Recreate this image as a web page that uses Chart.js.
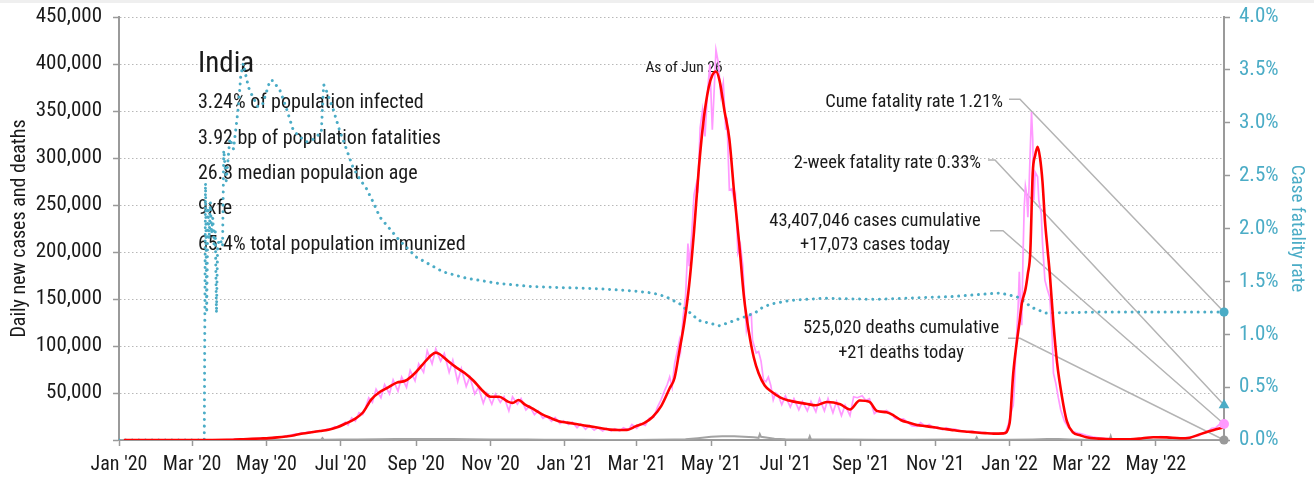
<!DOCTYPE html>
<html>
<head>
<meta charset="utf-8">
<script src="https://cdn.jsdelivr.net/npm/chart.js@4.4.1/dist/chart.umd.min.js"></script>
<style>
  html, body { margin: 0; padding: 0; background: #ffffff; }
  #wrap { position: relative; width: 1314px; height: 480px; overflow: hidden; }
  #band { position: absolute; left: 0; top: 0; width: 1314px; height: 3px; background: #efefef; }
  canvas { position: absolute; left: 0; top: 0; }
</style>
</head>
<body>
<div id="wrap">
  <canvas id="c" width="1314" height="480"></canvas>
  <div id="band"></div>
</div>
<script>
// ---- Data ---------------------------------------------------------------
const countryName = 'India';
const infoLines = [
  '3.24% of population infected',
  '3.92 bp of population fatalities',
  '26.8 median population age',
  '9xfe',
  '65.4% total population immunized'
];
const asOfDate = '2022-06-26';
const asOfLabel = 'As of Jun 26';

const tickDates = ['2020-01-01','2020-03-01','2020-05-01','2020-07-01','2020-09-01','2020-11-01',
                   '2021-01-01','2021-03-01','2021-05-01','2021-07-01','2021-09-01','2021-11-01',
                   '2022-01-01','2022-03-01','2022-05-01'];
const tickLabels = ["Jan '20","Mar '20","May '20","Jul '20","Sep '20","Nov '20",
                    "Jan '21","Mar '21","May '21","Jul '21","Sep '21","Nov '21",
                    "Jan '22","Mar '22","May '22"];

// 7-day average of new cases
const casesAvg = [
  ['2020-01-05',0],['2020-02-02',0],['2020-03-01',0],['2020-03-15',20],['2020-03-29',100],
  ['2020-04-05',400],['2020-04-12',800],['2020-04-19',1200],['2020-04-26',1600],['2020-05-03',2000],
  ['2020-05-10',2800],['2020-05-17',3800],['2020-05-24',5000],['2020-05-31',7000],['2020-06-07',8200],
  ['2020-06-14',9500],['2020-06-21',11000],['2020-06-28',13500],['2020-07-05',17500],['2020-07-12',22000],
  ['2020-07-19',29000],['2020-07-26',43000],['2020-08-02',51000],['2020-08-09',56000],['2020-08-16',61000],
  ['2020-08-23',63000],['2020-08-30',70000],['2020-09-06',80000],['2020-09-13',90000],['2020-09-17',93000],
  ['2020-09-20',91500],['2020-09-27',84000],['2020-10-04',77000],['2020-10-11',71000],['2020-10-18',63000],
  ['2020-10-25',53000],['2020-11-01',46000],['2020-11-08',46000],['2020-11-15',41000],['2020-11-19',39500],
  ['2020-11-24',42500],['2020-11-29',38000],['2020-12-06',33000],['2020-12-13',27500],['2020-12-20',23500],
  ['2020-12-27',20000],['2021-01-03',18500],['2021-01-10',17000],['2021-01-17',15500],['2021-01-24',14000],
  ['2021-01-31',12500],['2021-02-07',11000],['2021-02-14',10600],['2021-02-21',10800],['2021-02-28',14500],
  ['2021-03-07',18000],['2021-03-14',24500],['2021-03-21',36000],['2021-03-28',55000],['2021-04-01',66000],
  ['2021-04-05',95000],['2021-04-09',125000],['2021-04-13',165000],['2021-04-17',222000],['2021-04-21',290000],
  ['2021-04-25',342000],['2021-04-29',375000],['2021-05-02',388000],['2021-05-05',392000],['2021-05-08',382000],
  ['2021-05-12',350000],['2021-05-16',320000],['2021-05-20',262000],['2021-05-24',210000],['2021-05-28',152000],
  ['2021-06-01',115000],['2021-06-05',88000],['2021-06-09',71000],['2021-06-14',58000],['2021-06-20',51000],
  ['2021-06-27',45000],['2021-07-04',42000],['2021-07-11',40000],['2021-07-18',38500],['2021-07-26',37000],
  ['2021-08-04',40500],['2021-08-15',38000],['2021-08-23',32500],['2021-08-31',42000],['2021-09-08',40500],
  ['2021-09-14',31000],['2021-09-22',29500],['2021-09-28',26000],['2021-10-04',21000],['2021-10-10',18500],
  ['2021-10-17',16000],['2021-10-24',14800],['2021-10-31',13500],['2021-11-07',12000],['2021-11-14',10800],
  ['2021-11-21',9500],['2021-11-28',8800],['2021-12-05',8000],['2021-12-12',7300],['2021-12-19',6800],
  ['2021-12-27',7000],['2022-01-01',17700],['2022-01-04',71000],['2022-01-07',105000],['2022-01-09',124000],
  ['2022-01-11',145000],['2022-01-14',160000],['2022-01-16',177000],['2022-01-18',200000],['2022-01-20',284000],
  ['2022-01-22',303000],['2022-01-24',312000],['2022-01-26',300000],['2022-01-28',275000],['2022-01-30',234000],
  ['2022-02-01',205000],['2022-02-03',177000],['2022-02-06',124000],['2022-02-09',82000],['2022-02-13',46000],
  ['2022-02-17',20000],['2022-02-22',8000],['2022-02-28',5000],['2022-03-05',3000],['2022-03-15',1500],
  ['2022-03-27',800],['2022-04-10',800],['2022-04-20',1800],['2022-04-29',3000],['2022-05-10',2800],
  ['2022-05-21',1800],['2022-05-29',2500],['2022-06-06',6000],['2022-06-12',8500],['2022-06-17',10500],
  ['2022-06-26',13500]
];

// reported new cases per day
const casesDaily = [
  ['2020-03-01',0],['2020-03-20',30],['2020-03-28',100],['2020-04-02',450],['2020-04-06',600],['2020-04-10',750],
  ['2020-04-14',950],['2020-04-18',1100],['2020-04-22',1400],['2020-04-26',1650],['2020-04-30',1800],['2020-05-03',2300],
  ['2020-05-06',2600],['2020-05-09',3100],['2020-05-12',3300],['2020-05-15',3700],['2020-05-18',4600],['2020-05-21',5000],
  ['2020-05-24',6300],['2020-05-27',6400],['2020-05-30',7700],['2020-06-02',7600],['2020-06-05',8800],['2020-06-08',8000],
  ['2020-06-11',9600],['2020-06-14',9300],['2020-06-17',10400],['2020-06-20',11600],['2020-06-23',11500],['2020-06-26',14200],
  ['2020-06-29',13400],['2020-07-02',16500],['2020-07-05',19000],['2020-07-07',16000],['2020-07-10',23500],['2020-07-13',20000],
  ['2020-07-16',29000],['2020-07-19',27000],['2020-07-21',33000],['2020-07-24',45000],['2020-07-27',40000],['2020-07-30',54000],
  ['2020-08-03',45000],['2020-08-06',59000],['2020-08-10',49000],['2020-08-13',64000],['2020-08-17',52000],['2020-08-20',67000],
  ['2020-08-24',56000],['2020-08-27',74000],['2020-08-31',63000],['2020-09-03',81000],['2020-09-07',72000],['2020-09-10',95000],
  ['2020-09-14',81000],['2020-09-17',97000],['2020-09-21',84000],['2020-09-24',92000],['2020-09-28',72000],['2020-10-01',85000],
  ['2020-10-05',62000],['2020-10-08',76000],['2020-10-12',57000],['2020-10-15',67000],['2020-10-19',49000],['2020-10-22',56000],
  ['2020-10-26',39000],['2020-10-29',50000],['2020-11-02',38000],['2020-11-05',49000],['2020-11-09',40000],['2020-11-12',46000],
  ['2020-11-16',31000],['2020-11-19',46000],['2020-11-23',38000],['2020-11-26',44000],['2020-11-30',32000],['2020-12-03',36000],
  ['2020-12-07',27000],['2020-12-10',31000],['2020-12-14',23000],['2020-12-17',25500],['2020-12-21',20000],['2020-12-24',24000],
  ['2020-12-28',17500],['2020-12-31',20500],['2021-01-04',16500],['2021-01-07',19000],['2021-01-11',13000],['2021-01-14',17000],
  ['2021-01-18',11500],['2021-01-21',15500],['2021-01-25',10500],['2021-01-28',13000],['2021-02-01',9500],['2021-02-04',12500],
  ['2021-02-08',9500],['2021-02-11',12000],['2021-02-15',9500],['2021-02-18',13000],['2021-02-22',10500],['2021-02-25',16500],
  ['2021-03-01',12500],['2021-03-04',17500],['2021-03-08',15500],['2021-03-11',23000],['2021-03-15',24500],['2021-03-18',35000],
  ['2021-03-21',43000],['2021-03-24',53000],['2021-03-26',59000],['2021-03-28',67000],['2021-03-30',56000],['2021-04-01',81000],
  ['2021-04-03',93000],['2021-04-05',106000],['2021-04-06',96000],['2021-04-08',131000],['2021-04-10',152000],['2021-04-12',209000],
  ['2021-04-13',185000],['2021-04-15',217000],['2021-04-17',261000],['2021-04-19',273000],['2021-04-20',263000],['2021-04-22',332000],
  ['2021-04-24',351000],['2021-04-26',323000],['2021-04-28',370000],['2021-04-30',400000],['2021-05-02',330000],['2021-05-03',357000],
  ['2021-05-05',415000],['2021-05-07',401000],['2021-05-09',366000],['2021-05-11',380000],['2021-05-13',330000],['2021-05-14',343000],
  ['2021-05-16',266000],['2021-05-18',267000],['2021-05-20',255000],['2021-05-21',260000],['2021-05-23',199000],['2021-05-25',208000],
  ['2021-05-27',186000],['2021-05-30',117000],['2021-06-01',132000],['2021-06-03',134000],['2021-06-04',106000],['2021-06-07',92500],
  ['2021-06-09',94000],['2021-06-11',84000],['2021-06-13',64000],['2021-06-15',62000],['2021-06-17',67000],['2021-06-19',58000],
  ['2021-06-21',42500],['2021-06-23',50000],['2021-06-25',48000],['2021-06-28',37500],['2021-07-01',47000],['2021-07-05',35000],
  ['2021-07-08',44000],['2021-07-12',32000],['2021-07-15',41000],['2021-07-19',31000],['2021-07-22',41000],['2021-07-26',30000],
  ['2021-07-29',44000],['2021-08-02',31000],['2021-08-05',44000],['2021-08-09',29000],['2021-08-12',41000],['2021-08-16',26000],
  ['2021-08-19',37000],['2021-08-23',26000],['2021-08-26',46000],['2021-08-29',45000],['2021-09-02',47000],['2021-09-05',42000],
  ['2021-09-08',44000],['2021-09-12',28000],['2021-09-15',31000],['2021-09-19',30000],['2021-09-22',31500],['2021-09-26',28000],
  ['2021-09-29',23000],['2021-10-03',22000],['2021-10-06',22500],['2021-10-10',18000],['2021-10-13',15000],['2021-10-17',14500],
  ['2021-10-20',18500],['2021-10-24',14500],['2021-10-27',16500],['2021-10-31',12500],['2021-11-03',14000],['2021-11-07',11000],
  ['2021-11-10',13000],['2021-11-14',11000],['2021-11-17',11500],['2021-11-21',10000],['2021-11-24',9500],['2021-11-28',8500],
  ['2021-12-01',9500],['2021-12-05',8300],['2021-12-08',8500],['2021-12-12',7700],['2021-12-15',7000],['2021-12-19',7000],
  ['2021-12-22',6300],['2021-12-25',7000],['2021-12-27',6500],['2021-12-29',9200],['2021-12-31',16800],
  ['2022-01-01',22000],['2022-01-02',27500],['2022-01-03',33000],['2022-01-04',37000],['2022-01-05',58000],['2022-01-06',90000],
  ['2022-01-07',117000],['2022-01-08',141000],['2022-01-09',179000],['2022-01-10',142000],['2022-01-11',122000],['2022-01-12',195000],
  ['2022-01-13',247000],['2022-01-14',270000],['2022-01-15',262000],['2022-01-16',237000],['2022-01-17',270000],['2022-01-19',349000],
  ['2022-01-20',320000],['2022-01-21',255000],['2022-01-22',285000],['2022-01-24',280000],['2022-01-25',255000],['2022-01-27',241000],
  ['2022-01-28',210000],['2022-01-30',170000],['2022-02-01',160000],['2022-02-03',152000],['2022-02-05',110000],['2022-02-06',71000],
  ['2022-02-08',60000],['2022-02-10',45000],['2022-02-12',32000],['2022-02-15',20000],['2022-02-18',14000],['2022-02-22',9000],
  ['2022-02-26',7500],['2022-03-01',6500],['2022-03-05',5000],['2022-03-10',3500],['2022-03-15',2200],['2022-03-20',1700],
  ['2022-03-27',1300],['2022-04-03',1000],['2022-04-10',900],['2022-04-17',1300],['2022-04-21',2300],['2022-04-24',2500],
  ['2022-04-28',3300],['2022-05-01',3100],['2022-05-05',3500],['2022-05-08',3300],['2022-05-12',2800],['2022-05-15',2400],
  ['2022-05-19',2200],['2022-05-22',2100],['2022-05-26',2600],['2022-05-29',2800],['2022-06-02',3700],['2022-06-05',4300],
  ['2022-06-09',7500],['2022-06-12',8600],['2022-06-16',12500],['2022-06-19',12900],['2022-06-23',17300],['2022-06-26',17073]
];

// reported deaths per day
const deathsDaily = [
  ['2020-01-01',0],['2020-03-10',0],['2020-04-01',10],['2020-04-15',35],['2020-05-01',70],['2020-05-15',120],
  ['2020-06-01',220],['2020-06-15',330],['2020-06-16',2000],['2020-06-17',340],['2020-07-01',420],['2020-07-15',580],
  ['2020-08-01',800],['2020-08-15',950],['2020-09-01',1050],['2020-09-15',1150],['2020-10-01',1050],['2020-10-15',800],
  ['2020-11-01',550],['2020-11-15',480],['2020-12-01',480],['2020-12-15',350],['2021-01-01',250],['2021-01-15',180],
  ['2021-02-01',120],['2021-02-15',100],['2021-03-01',110],['2021-03-15',160],['2021-04-01',400],['2021-04-10',700],
  ['2021-04-20',1900],['2021-05-01',3400],['2021-05-10',4000],['2021-05-20',4100],['2021-05-28',3500],['2021-06-05',2800],
  ['2021-06-09',2300],['2021-06-10',6150],['2021-06-11',3400],['2021-06-15',2600],['2021-06-22',1400],['2021-07-01',900],
  ['2021-07-15',600],['2021-07-20',500],['2021-07-21',3900],['2021-07-22',500],['2021-08-15',450],['2021-09-15',350],
  ['2021-10-15',300],['2021-11-15',400],['2021-12-04',300],['2021-12-05',2800],['2021-12-06',300],['2022-01-01',250],
  ['2022-01-20',500],['2022-02-01',1000],['2022-02-10',1100],['2022-02-20',500],['2022-03-01',200],['2022-03-24',60],
  ['2022-03-25',4100],['2022-03-26',60],['2022-04-15',40],['2022-05-15',30],['2022-06-26',21]
];

// cumulative case fatality rate, percent
const fatalityRate = [
  ['2020-01-01',0],['2020-03-11',0],['2020-03-12',2.43],['2020-03-13',1.2],['2020-03-14',2.2],['2020-03-15',1.9],
  ['2020-03-16',2.25],['2020-03-17',1.95],['2020-03-18',2.1],['2020-03-19',1.85],['2020-03-20',2.0],['2020-03-21',1.2],
  ['2020-03-22',1.85],['2020-03-24',1.9],['2020-03-26',1.83],['2020-03-27',2.74],['2020-03-29',2.45],['2020-04-01',2.85],
  ['2020-04-04',2.75],['2020-04-08',3.15],['2020-04-10',3.45],['2020-04-12',3.56],['2020-04-15',3.40],['2020-04-17',3.31],
  ['2020-04-21',3.22],['2020-04-24',3.15],['2020-04-28',3.18],['2020-05-04',3.40],['2020-05-06',3.40],['2020-05-12',3.31],
  ['2020-05-17',3.15],['2020-05-23',2.93],['2020-05-28',2.87],['2020-06-03',2.82],['2020-06-08',2.84],['2020-06-12',2.88],
  ['2020-06-15',2.9],['2020-06-17',3.36],['2020-06-19',3.31],['2020-06-25',3.12],['2020-06-30',2.93],['2020-07-06',2.74],
  ['2020-07-11',2.58],['2020-07-17',2.46],['2020-07-22',2.38],['2020-07-28',2.24],['2020-08-02',2.11],['2020-08-18',1.89],
  ['2020-09-01',1.73],['2020-09-23',1.59],['2020-10-12',1.53],['2020-11-08',1.48],['2020-12-06',1.45],['2021-01-02',1.44],
  ['2021-01-29',1.43],['2021-02-26',1.41],['2021-03-14',1.39],['2021-03-25',1.355],['2021-04-05',1.29],['2021-04-21',1.13],
  ['2021-05-08',1.08],['2021-05-30',1.17],['2021-06-07',1.21],['2021-06-13',1.26],['2021-06-21',1.29],['2021-07-05',1.32],
  ['2021-08-01',1.34],['2021-09-11',1.33],['2021-11-13',1.355],['2021-12-24',1.39],['2022-01-07',1.355],['2022-01-20',1.25],
  ['2022-01-31',1.20],['2022-03-16',1.21],['2022-06-26',1.21]
];

const cumeFatality = 1.21;
const twoWeekFatality = 0.33;
const casesToday = 17073;
const deathsToday = 21;
const casesCumulative = '43,407,046';
const deathsCumulative = '525,020';

// ---- Helpers ------------------------------------------------------------
const FONT = "'Roboto Condensed','Liberation Sans Narrow','Arial Narrow',sans-serif";
const BLUE = '#4bacc6', RED = '#ff0000', PINK = '#ff99ff', GREY = '#a3a3a3', AXIS = '#9a9a9a';
const DAY0 = Date.UTC(2020, 0, 1);
function dayOf(s) {
  const [y, m, d] = s.split('-').map(Number);
  return (Date.UTC(y, m - 1, d) - DAY0) / 86400000;
}
const toPoints = rows => rows.map(([d, v]) => ({ x: dayOf(d), y: v }));
const withCommas = n => String(n).replace(/\B(?=(\d{3})+(?!\d))/g, ',');
const tickLabelByDay = {};
tickDates.forEach((d, i) => { tickLabelByDay[dayOf(d)] = tickLabels[i]; });
const lastDay = dayOf(asOfDate);

// keep the plot frame fixed: no extra room reserved for label overhang
const fixedEdges = (w, h) => s => {
  if (w !== null) s.width = w;
  if (h !== null) s.height = h;
  s.paddingTop = 0; s.paddingBottom = 0; s.paddingLeft = 0; s.paddingRight = 0;
};

// ---- Text and leader lines ----------------------------------------------
const notes = {
  id: 'notes',
  beforeDatasetsDraw(chart) {
    const c = chart.ctx;
    const sx = chart.scales.x, sy = chart.scales.y, sr = chart.scales.yRate;
    const mx = sx.getPixelForValue(lastDay);
    c.save();
    c.fillStyle = '#1a1a1a';
    c.textBaseline = 'alphabetic';
    c.textAlign = 'left';
    c.font = `29px ${FONT}`;
    c.fillText(countryName, 198, 72);
    c.font = `20px ${FONT}`;
    infoLines.forEach((t, i) => c.fillText(t, 198, 108.3 + i * 35.3));

    c.font = `15.5px ${FONT}`;
    c.textAlign = 'center';
    c.fillText(asOfLabel, 684, 72);

    c.font = `18.5px ${FONT}`;
    c.textAlign = 'right';
    c.fillText(`Cume fatality rate ${cumeFatality.toFixed(2)}%`, 1003, 106.7);
    c.fillText(`2-week fatality rate ${twoWeekFatality.toFixed(2)}%`, 981, 167.7);
    c.textAlign = 'center';
    c.fillText(`${casesCumulative} cases cumulative`, 875, 225.7);
    c.fillText(`+${withCommas(casesToday)} cases today`, 875, 250);
    c.fillText(`${deathsCumulative} deaths cumulative`, 901, 333.3);
    c.fillText(`+${withCommas(deathsToday)} deaths today`, 901, 357.7);

    const leaders = [
      { x0: 1009, y0: 99.3, elbow: 1020, ty: sr.getPixelForValue(cumeFatality) },
      { x0: 988, y0: 160, elbow: 995, ty: sr.getPixelForValue(twoWeekFatality) },
      { x0: 990, y0: 230.7, elbow: 1003, ty: sy.getPixelForValue(casesToday) },
      { x0: 1008, y0: 338.3, elbow: 1020, ty: sy.getPixelForValue(deathsToday) }
    ];
    c.strokeStyle = '#b4b4b4';
    c.lineWidth = 1.5;
    leaders.forEach(l => {
      c.beginPath();
      c.moveTo(l.x0, l.y0);
      c.lineTo(l.elbow, l.y0);
      c.lineTo(mx, l.ty);
      c.stroke();
    });
    c.restore();
  }
};

// ---- Chart --------------------------------------------------------------
Chart.defaults.font.family = FONT;
Chart.defaults.color = '#1a1a1a';

new Chart(document.getElementById('c'), {
  type: 'line',
  data: {
    datasets: [
      {
        label: 'Fatality rate today', type: 'scatter', yAxisID: 'yRate', order: 0, clip: false,
        data: [{ x: lastDay, y: cumeFatality }, { x: lastDay, y: twoWeekFatality }],
        pointStyle: ['circle', 'triangle'], pointRadius: [4.6, 6.2], backgroundColor: BLUE, borderWidth: 0, showLine: false
      },
      {
        label: 'Counts today', type: 'scatter', yAxisID: 'y', order: 0, clip: false,
        data: [{ x: lastDay, y: casesToday }, { x: lastDay, y: deathsToday }],
        pointStyle: 'circle', pointRadius: [5, 4.6], backgroundColor: [PINK, '#999999'], borderWidth: 0, showLine: false
      },
      {
        label: 'New cases, 7-day average', yAxisID: 'y', order: 1,
        data: toPoints(casesAvg), borderColor: RED, borderWidth: 2.6, pointRadius: 0,
        cubicInterpolationMode: 'monotone'
      },
      {
        label: 'Case fatality rate', yAxisID: 'yRate', order: 2,
        data: toPoints(fatalityRate), borderColor: BLUE, borderWidth: 3, pointRadius: 0,
        borderDash: [0.01, 6.6], borderCapStyle: 'round', tension: 0
      },
      {
        label: 'New deaths', yAxisID: 'y', order: 3,
        data: toPoints(deathsDaily), borderColor: GREY, borderWidth: 2, pointRadius: 0
      },
      {
        label: 'New cases', yAxisID: 'y', order: 4,
        data: toPoints(casesDaily), borderColor: PINK, borderWidth: 1.7, pointRadius: 0
      }
    ]
  },
  options: {
    responsive: false,
    animation: false,
    devicePixelRatio: 1,
    events: [],
    layout: { padding: { top: 17, left: 0, right: 0, bottom: 0 } },
    plugins: { legend: { display: false }, tooltip: { enabled: false } },
    scales: {
      x: {
        type: 'linear', min: 0, max: lastDay,
        afterBuildTicks: s => { s.ticks = tickDates.map(d => ({ value: dayOf(d) })); },
        afterFit: fixedEdges(null, 40),
        ticks: {
          autoSkip: false, maxRotation: 0, padding: 7, color: '#1a1a1a',
          font: { size: 20 },
          callback: v => tickLabelByDay[v] || ''
        },
        grid: { drawOnChartArea: false, drawTicks: true, tickLength: 6, tickColor: AXIS, tickWidth: 1.5 },
        border: { color: AXIS, width: 2 }
      },
      y: {
        position: 'left', min: 0, max: 450000,
        afterFit: fixedEdges(119, null),
        ticks: {
          stepSize: 50000, padding: 11, color: '#1a1a1a', font: { size: 21 },
          callback: v => (v === 0 ? '' : withCommas(v))
        },
        grid: { color: '#b8b8b8', lineWidth: 1, tickColor: AXIS, tickLength: 6, tickWidth: 1.5, tickBorderDash: [] },
        border: { color: AXIS, width: 2, dash: [1.5, 2.5] },
        title: {
          display: true, text: 'Daily new cases and deaths', color: '#1a1a1a',
          font: { size: 20 }, padding: { top: 8, bottom: 0 }
        }
      },
      yRate: {
        position: 'right', min: 0, max: 4,
        afterFit: fixedEdges(90, null),
        ticks: {
          stepSize: 0.5, padding: 9, color: BLUE, font: { size: 21 },
          callback: v => v.toFixed(1) + '%'
        },
        grid: { drawOnChartArea: false, tickColor: AXIS, tickLength: 6, tickWidth: 1.5 },
        border: { color: AXIS, width: 2 },
        title: {
          display: true, text: 'Case fatality rate', color: BLUE,
          font: { size: 19 }, padding: { top: 6, bottom: 0 }
        }
      }
    }
  },
  plugins: [notes]
});
</script>
</body>
</html>
